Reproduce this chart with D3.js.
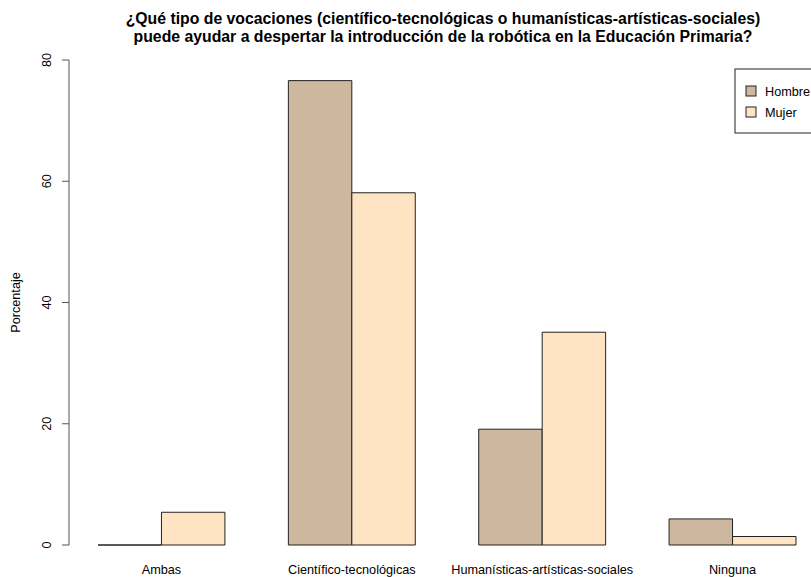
<html>
<head>
  <script src="https://d3js.org/d3.v7.min.js"></script>
  <style>
    body { margin: 0; background: white; }
    text { font-family: "Liberation Sans", Arial, sans-serif; fill: #000; }
  </style>
</head>
<body>
  <div id="chart"></div>
  <script>
    // data
    const categories = ["Ambas", "Científico-tecnológicas", "Humanísticas-artísticas-sociales", "Ninguna"];
    const groups = ["Hombre", "Mujer"];
    const hombre = [0, 76.6, 19.1, 4.3];
    const mujer = [5.4, 58.1, 35.1, 1.4];
    const yTicks = [0, 20, 40, 60, 80];
    const colors = ["#CDB79E", "#FFE4C4"];
    const titleLines = [
      "¿Qué tipo de vocaciones (científico-tecnológicas o humanísticas-artísticas-sociales)",
      "puede ayudar a despertar la introducción de la robótica en la Educación Primaria?"
    ];

    const width = 811, height = 577;
    const svg = d3.select("#chart").append("svg")
      .attr("width", width).attr("height", height);

    // R barplot style units: each group = 2 bars + 1 space
    const x = d3.scaleLinear().domain([1, 12]).range([98, 796]);
    const y = d3.scaleLinear().domain([0, 80]).range([545, 60]);

    const values = [hombre, mujer];
    categories.forEach((c, i) => {
      const start = 1 + i * 3;
      values.forEach((v, g) => {
        const x0 = x(start + g), x1 = x(start + g + 1);
        const y0 = y(0), y1 = y(v[i]);
        svg.append("path")
          .attr("d", `M${x0},${y0}V${y1}H${x1}V${y0}Z`)
          .style("fill", colors[g])
          .style("stroke", "#222")
          .style("stroke-width", 1);
      });
      svg.append("text")
        .attr("x", x(start + 1))
        .attr("y", 574)
        .attr("text-anchor", "middle")
        .style("font-size", "12.7px")
        .text(c);
    });

    // y axis
    const axisX = 69;
    svg.append("line")
      .attr("x1", axisX).attr("x2", axisX)
      .attr("y1", y(0)).attr("y2", y(80))
      .style("stroke", "#555");
    yTicks.forEach(t => {
      svg.append("line")
        .attr("x1", axisX - 7).attr("x2", axisX)
        .attr("y1", y(t)).attr("y2", y(t))
        .style("stroke", "#555");
      svg.append("text")
        .attr("transform", `translate(51,${y(t)}) rotate(-90)`)
        .attr("text-anchor", "middle")
        .style("font-size", "12.7px")
        .text(t);
    });
    svg.append("text")
      .attr("transform", `translate(20,${y(40)}) rotate(-90)`)
      .attr("text-anchor", "middle")
      .style("font-size", "12.7px")
      .text("Porcentaje");

    // title
    titleLines.forEach((t, i) => {
      svg.append("text")
        .attr("x", 443)
        .attr("y", 24 + i * 18)
        .attr("text-anchor", "middle")
        .style("font-size", "15.8px")
        .style("font-weight", "bold")
        .text(t);
    });

    // legend
    svg.append("rect")
      .attr("x", 735).attr("y", 69)
      .attr("width", 110).attr("height", 64)
      .style("fill", "white")
      .style("stroke", "#222");
    groups.forEach((g, i) => {
      svg.append("rect")
        .attr("x", 746).attr("y", 86 + i * 21)
        .attr("width", 10).attr("height", 10)
        .style("fill", colors[i])
        .style("stroke", "#222");
      svg.append("text")
        .attr("x", 765).attr("y", 96 + i * 21)
        .style("font-size", "12.7px")
        .text(g);
    });
  </script>
</body>
</html>
